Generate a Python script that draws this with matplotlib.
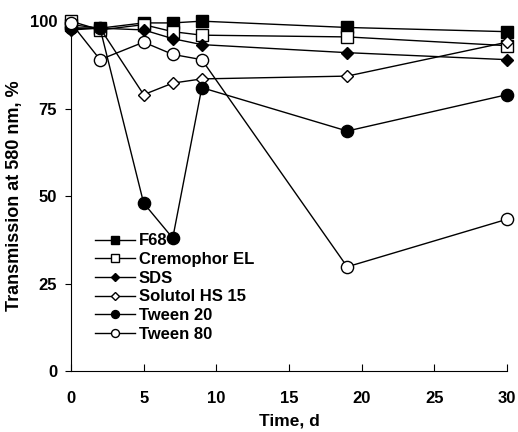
import matplotlib
matplotlib.use("Agg")
import matplotlib.pyplot as plt

days = [0, 2, 5, 7, 9, 19, 30]
f68 = [99, 98, 99.5, 99.5, 100, 98.2, 97]
cremophor = [100, 97.5, 99, 97, 96, 95.5, 93]
sds = [97.5, 98, 97.5, 95, 93.3, 91, 89]
solutol = [98, 98, 79, 82.3, 83.5, 84.3, 94]
tween20 = [98, 98, 48, 38, 81, 68.6, 79]
tween80 = [99.5, 89, 94, 90.5, 89, 29.8, 43.4]

series = [
    ("F68", f68, "s", "black"),
    ("Cremophor EL", cremophor, "s", "white"),
    ("SDS", sds, "D", "black"),
    ("Solutol HS 15", solutol, "D", "white"),
    ("Tween 20", tween20, "o", "black"),
    ("Tween 80", tween80, "o", "white"),
]
sizes = {"o": 8.8, "s": 8.4, "D": 6.4}

plt.rcParams['font.family'] = ['Liberation Sans', 'DejaVu Sans']
plt.rcParams['font.weight'] = 'bold'

fig = plt.figure(figsize=(5.18, 4.32), dpi=100)
ax = fig.add_axes([0.137, 0.141, 0.842, 0.810])

for name, vals, m, fc in series:
    ax.plot(days, vals, color="black", lw=1, marker=m, markersize=sizes[m],
            markerfacecolor=fc, markeredgecolor="black", markeredgewidth=1,
            label=name, clip_on=False, zorder=3)

ax.set_xlim(0, 30)
ax.set_ylim(0, 100)
ax.set_xticks([0, 5, 10, 15, 20, 25, 30])
ax.set_yticks([0, 25, 50, 75, 100])
ax.spines['top'].set_visible(False)
ax.spines['right'].set_visible(False)
ax.tick_params(axis='x', direction='in', length=5, labelsize=12, pad=14)
ax.tick_params(axis='y', direction='out', length=4, labelsize=12, pad=6)
ax.set_xlabel("Time, d", fontsize=12.5, fontweight='bold', labelpad=6)
ax.set_ylabel("Transmission at 580 nm, %", fontsize=13, fontweight='bold', labelpad=5)

leg = ax.legend(loc='lower left', bbox_to_anchor=(0.035, 0.06), frameon=False,
                fontsize=12, handlelength=2.4, handletextpad=0.25,
                labelspacing=0.22, borderpad=0, markerscale=0.65)

fig.savefig("out.png", dpi=100)
